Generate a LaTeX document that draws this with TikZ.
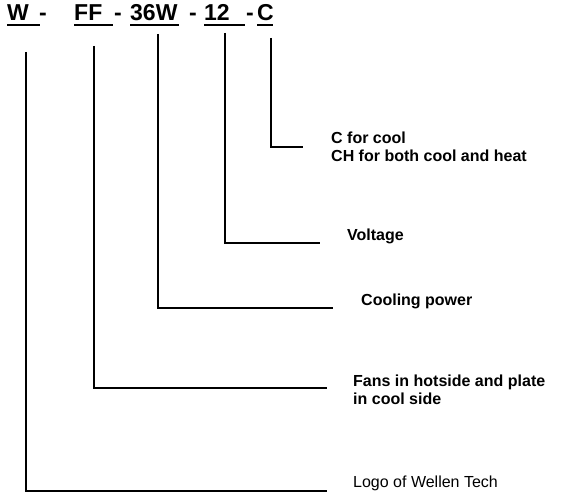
\documentclass[tikz,border=0pt]{standalone}
\usepackage{fontspec}
\setmainfont{Liberation Sans}
\usetikzlibrary{positioning}

\begin{document}
\begin{tikzpicture}[x=1pt, y=-1pt,
  code/.style={font=\fontsize{23}{27}\selectfont\bfseries, inner sep=0pt, anchor=base west},
  lbl/.style={font=\fontsize{16}{18}\selectfont\bfseries, inner sep=0pt, anchor=base west, align=left},
  uline/.style={black, line width=2pt},
  leg/.style={black, line width=1.4pt}]
\useasboundingbox (0,0) rectangle (571,502);

% part number
\node[code] (w) at (7,21) {W};
\node[code] (d1) at (39,21) {-};
\node[code] (ff) at (74,21) {FF};
\node[code] (d2) at (114,21) {-};
\node[code] (pw) at (130,21) {36W};
\node[code] (d3) at (189,21) {-};
\node[code] (volt) at (204,21) {12};
\node[code] (d4) at (246,21) {-};
\node[code] (c) at (257,21) {C};

\draw[uline] ([yshift=-4pt]w.base west) -- ++(33,0);
\draw[uline] ([yshift=-4pt]ff.base west) -- ++(39,0);
\draw[uline] ([yshift=-4pt]pw.base west) -- ++(49,0);
\draw[uline] ([yshift=-4pt]volt.base west) -- ++(41,0);
\draw[uline] ([yshift=-4pt]c.base west) -- ++(16,0);

% meanings (base = last line)
\node[lbl] (cool) at (331,162) {C for cool\\CH for both cool and heat};
\node[lbl] (voltage) at (347,241) {Voltage};
\node[lbl] (power) at (361,306) {Cooling power};
\node[lbl] (fans) at (353,405) {Fans in hotside and plate\\in cool side};
\node[lbl, font=\fontsize{16}{18}\selectfont] (logo) at (353,488) {Logo of Wellen Tech};

\coordinate (cTop) at (271,38);
\coordinate (voltTop) at (225,33);
\coordinate (pwTop) at (158,34);
\coordinate (ffTop) at (94,46);
\coordinate (wTop) at (26,52);

\draw[leg, shorten >=28pt] (cTop) |- ([yshift=15pt]cool.base west);
\draw[leg, shorten >=27pt] (voltTop) |- ([yshift=-2pt]voltage.base west);
\draw[leg, shorten >=28pt] (pwTop) |- ([yshift=-2pt]power.base west);
\draw[leg, shorten >=26pt] (ffTop) |- ([yshift=17pt]fans.base west);
\draw[leg, line width=2.2pt, shorten >=26pt] (wTop) |- ([yshift=-3pt]logo.base west);
\end{tikzpicture}
\end{document}
